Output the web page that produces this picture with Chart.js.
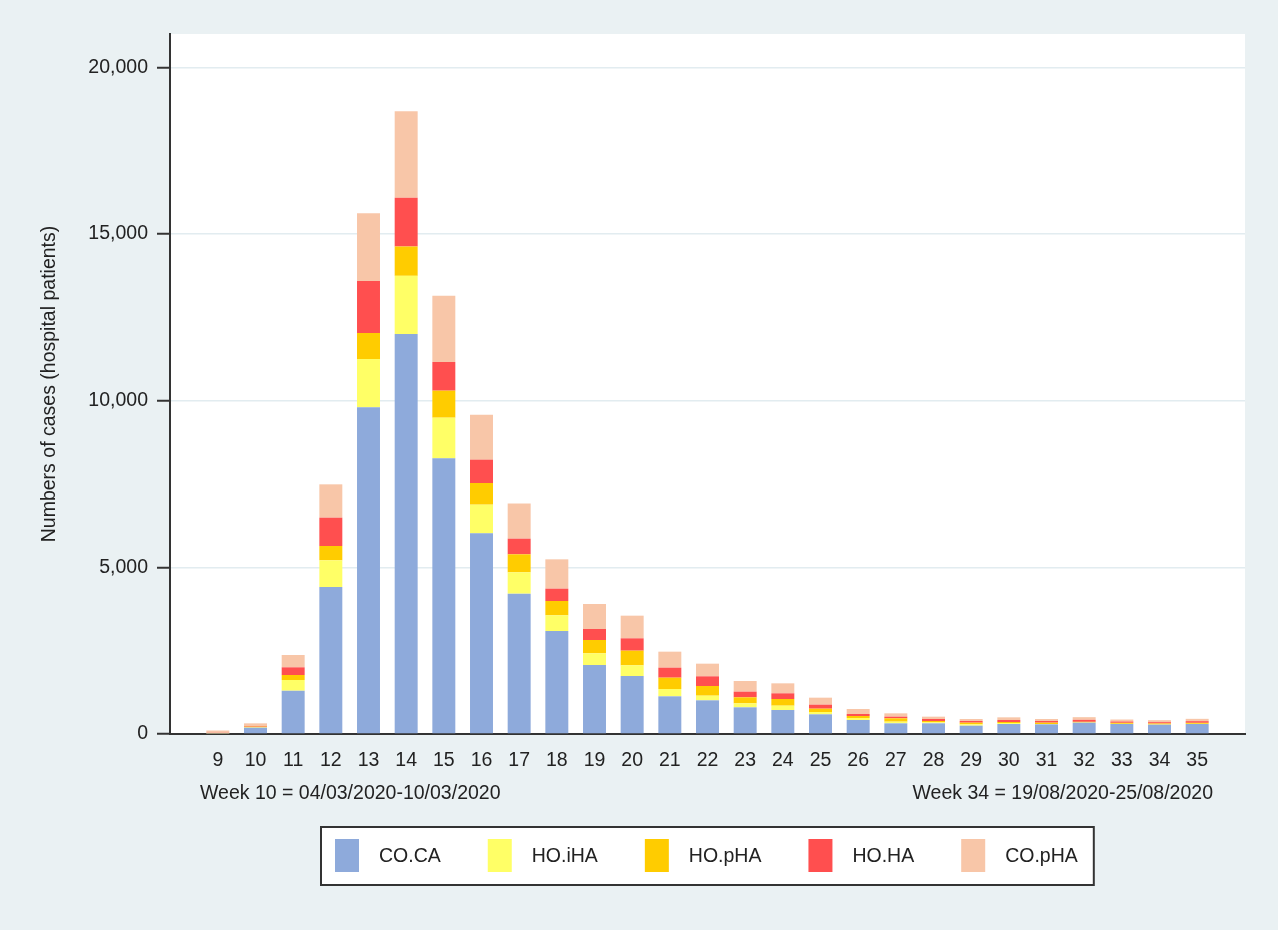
<!DOCTYPE html>
<html>
<head>
<meta charset="utf-8">
<script src="https://cdn.jsdelivr.net/npm/chart.js@4.4.1/dist/chart.umd.min.js"></script>
<style>
	html, body { margin:0; padding:0; background:#fff; }
	canvas { display:block; }
</style>
</head>
<body>
<canvas id="bar-weeks" width="1280" height="932"></canvas>
<script>
var weeks = [9,10,11,12,13,14,15,16,17,18,19,20,21,22,23,24,25,26,27,28,29,30,31,32,33,34,35];
var coCA  = [10,190,1300,4410,9800,12000,8270,6020,4210,3090,2070,1740,1130,1010,800,720,590,420,320,320,250,300,290,340,300,280,300];
var hoIHA = [5,10,320,800,1450,1745,1220,860,640,470,350,320,220,140,120,130,70,60,50,30,40,30,10,5,5,5,5];
var hoPHA = [10,20,150,430,780,880,810,650,540,430,400,440,340,290,180,200,100,60,100,40,50,30,40,20,30,30,30];
var hoHA  = [10,20,230,850,1560,1465,860,700,470,370,330,370,300,290,170,170,120,60,50,60,50,60,50,60,40,40,50];
var coPHA = [70,80,370,1000,2035,2595,1985,1350,1055,880,750,680,480,380,320,300,210,150,100,70,60,80,60,80,60,60,70];
var yTicks = [0,5000,10000,15000,20000];
var yTitle = 'Numbers of cases (hospital patients)';
var weekNotes = ['Week 10 = 04/03/2020-10/03/2020', 'Week 34 = 19/08/2020-25/08/2020'];

var FAMILY = "'Liberation Sans', Arial, sans-serif";
var FSIZE = 19.5;
var INK = '#222';

function pts(vals) {
	var out = [];
	for (let i in weeks) {
		out.push({x: weeks[i], y: vals[i]});
	}
	return out;
}

// grey page + white plot region
var backdrop = {
	id: 'backdrop',
	beforeDraw: function(chart) {
		var c = chart.ctx, a = chart.chartArea;
		c.save();
		c.fillStyle = '#ffffff';
		c.fillRect(0, 0, chart.width, chart.height);
		c.fillStyle = '#eaf1f3';
		c.fillRect(0, 0, 1278, 930);
		c.fillStyle = '#ffffff';
		c.fillRect(a.left, a.top, a.right - a.left, a.bottom - a.top);
		c.restore();
	}
};

// week notes under the axis and the boxed legend
var notesAndLegend = {
	id: 'notesAndLegend',
	afterDraw: function(chart) {
		var c = chart.ctx, a = chart.chartArea;
		c.save();
		c.font = FSIZE + 'px ' + FAMILY;
		c.fillStyle = INK;
		c.textBaseline = 'middle';
		c.textAlign = 'left';
		c.fillText(weekNotes[0], a.left + 30, 794);
		c.textAlign = 'right';
		c.fillText(weekNotes[1], a.right - 32, 794);

		var ds = chart.data.datasets;
		var sw = 24, sh = 33, gapT = 20, gapI = 47, pad = 14;
		var w = pad * 2 + 2;
		for (var i = 0; i < ds.length; i++) {
			w += sw + gapT + c.measureText(ds[i].label).width;
		}
		w += gapI * (ds.length - 1);
		var left = Math.round((a.left + a.right) / 2 - w / 2), top = 827, h = 58;
		c.fillStyle = '#ffffff';
		c.fillRect(left, top, w, h);
		c.strokeStyle = '#333';
		c.lineWidth = 2;
		c.strokeRect(left, top, w, h);

		var x = left + pad;
		c.textAlign = 'left';
		for (var j = 0; j < ds.length; j++) {
			c.fillStyle = ds[j].backgroundColor;
			c.fillRect(x, top + 12, sw, sh);
			x += sw + gapT;
			c.fillStyle = INK;
			c.fillText(ds[j].label, x, top + h / 2 + 1);
			x += c.measureText(ds[j].label).width + gapI;
		}
		c.restore();
	}
};

var chartData = {
	datasets: [
		{ label: 'CO.CA',  backgroundColor: '#8eaadb', data: pts(coCA) },
		{ label: 'HO.iHA', backgroundColor: '#ffff66', data: pts(hoIHA) },
		{ label: 'HO.pHA', backgroundColor: '#ffcc00', data: pts(hoPHA) },
		{ label: 'HO.HA',  backgroundColor: '#ff4f4f', data: pts(hoHA) },
		{ label: 'CO.pHA', backgroundColor: '#f8c6a8', data: pts(coPHA) }
	]
};

Chart.defaults.font.family = FAMILY;
Chart.defaults.font.size = FSIZE;
Chart.defaults.color = INK;

var ctx = document.getElementById('bar-weeks');
var barGraph = new Chart(ctx, {
	type: 'bar',
	data: chartData,
	plugins: [backdrop, notesAndLegend],
	options: {
		responsive: false,
		animation: false,
		layout: { padding: { top: 34, right: 35, bottom: 150, left: 0 } },
		datasets: { bar: { barPercentage: 0.61, categoryPercentage: 1, borderWidth: 0 } },
		plugins: {
			legend: { display: false },
			tooltip: { enabled: false }
		},
		scales: {
			x: {
				type: 'linear',
				stacked: true,
				offset: false,
				min: 7.73,
				max: 36.27,
				grid: { display: false, drawTicks: false },
				border: { display: true, color: '#333', width: 2 },
				ticks: { padding: 15, maxRotation: 0, autoSkip: false },
				afterBuildTicks: function(s) {
					s.ticks = weeks.map(function(v) { return {value: v}; });
				},
				afterFit: function(s) { s.height = 48; }
			},
			y: {
				stacked: true,
				min: 0,
				max: 21000,
				grid: { color: '#e2ecf0', lineWidth: 1.5, tickColor: '#333', tickLength: 13, tickWidth: 2 },
				border: { color: '#333', width: 2 },
				ticks: {
					padding: 9,
					callback: function(v) { return v.toLocaleString('en-US'); }
				},
				afterBuildTicks: function(s) {
					s.ticks = yTicks.map(function(v) { return {value: v}; });
				},
				title: { display: true, text: yTitle, padding: { top: 38, bottom: 0 } },
				afterFit: function(s) { s.width = 170; }
			}
		}
	}
});
</script>
</body>
</html>
